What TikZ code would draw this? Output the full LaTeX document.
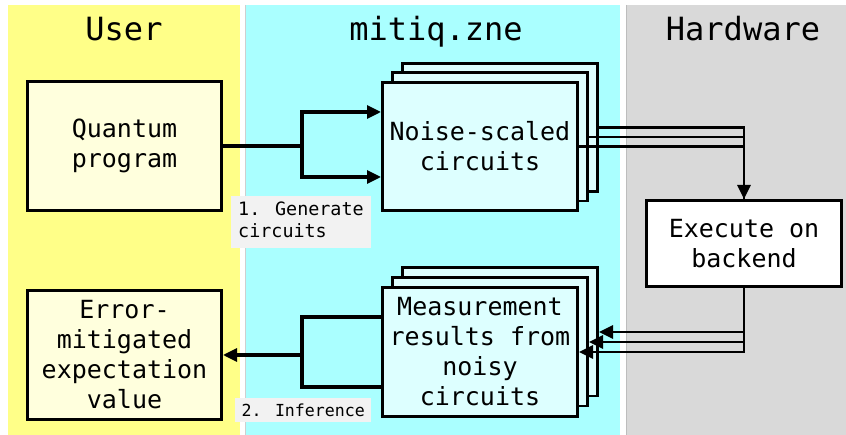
\documentclass[tikz,border=0pt]{standalone}
\usepackage{fontspec}
\setmainfont{DejaVu Sans Mono}
\usetikzlibrary{arrows.meta}
\definecolor{laneY}{HTML}{FFFF88}
\definecolor{boxY}{HTML}{FFFFDD}
\definecolor{laneC}{HTML}{AAFFFF}
\definecolor{boxC}{HTML}{DDFFFF}
\definecolor{laneG}{HTML}{D9D9D9}
\definecolor{lblbg}{HTML}{F2F2F2}
\definecolor{sepC}{HTML}{CFCFCF}
\definecolor{sepG}{HTML}{BDBDBD}
\tikzset{
  head/.style={anchor=base, inner sep=0pt, font=\fontsize{32}{38}\selectfont},
  box/.style={draw, line width=2.6pt, inner sep=0pt, align=center,
    font=\fontsize{25}{30}\selectfont},
  userbox/.style={box, fill=boxY, minimum width=194.4pt, minimum height=129.4pt},
  zbox/.style={box, fill=boxC, minimum width=195.4pt, minimum height=128.4pt},
  hwbox/.style={box, fill=white, minimum width=195.4pt, minimum height=86.4pt},
  connline/.style={line width=3.2pt},
  hwline/.style={line width=2.8pt},
  arrowtip/.style={-{Triangle[length=14pt,width=13pt]}},
  lblbox/.style={fill=lblbg, inner xsep=7pt, inner ysep=4pt},
}
\begin{document}
\begin{tikzpicture}[x=1pt,y=-1pt]
\useasboundingbox (0,0) rectangle (846,435);
% lanes
\fill[laneY] (8,5) rectangle (240,435);
\fill[laneC] (246,5) rectangle (620,435);
\draw[sepC, line width=1.5pt] (245.5,5) -- (245.5,435);
\fill[laneG] (626,5) rectangle (846,435);
\draw[sepG, line width=1.5pt] (626.5,5) -- (626.5,435);
% headings
\node[head] (hU) at (124,41) {User};
\node[head] (hM) at (436,41) {mitiq.zne};
\node[head] (hH) at (743,41) {Hardware};
% user boxes
\node[userbox] (qp) at (124.5,146) {Quantum\\program};
\node[userbox] (err) at (124.5,355) {Error-\\mitigated\\expectation\\value};
% noise-scaled stack
\node[zbox] (nb) at (500,127.5) {};
\node[zbox] (nm) at (490,137) {};
\node[zbox] (nf) at (480,146.5) {Noise-scaled\\circuits};
% measurement stack
\node[zbox] (mb) at (500,332) {};
\node[zbox] (mm) at (490,342) {};
\node[zbox] (mf) at (480,352) {Measurement\\results from\\noisy\\circuits};
% hardware
\node[hwbox] (ex) at (744,243.5) {Execute on\\backend};
% connectors: generate
\coordinate (j1) at (302,146);
\draw[connline] (qp.east) -- (j1);
\draw[connline, arrowtip] (j1) |- ([yshift=34.5pt]nf.west);
\draw[connline, arrowtip] (j1) |- ([yshift=-30.5pt]nf.west);
% to hardware
\draw[hwline] (nb.east) -| (ex.north);
\draw[hwline] (nm.east) -| (ex.north);
\draw[hwline, arrowtip] (nf.east) -| (ex.north);
% from hardware
\draw[hwline, arrowtip] (ex.south) |- (mb.east);
\draw[hwline, arrowtip] (ex.south) |- (mm.east);
\draw[hwline, arrowtip] (ex.south) |- (mf.east);
% inference
\coordinate (j2) at (302,355);
\draw[connline] ([yshift=35pt]mf.west) -| (j2);
\draw[connline] ([yshift=-35pt]mf.west) -| (j2);
\draw[connline, arrowtip] (j2) -- (err.east);
% labels
\node[lblbox, anchor=north west] (l1) at (231,196) {\fontsize{18.4}{22}\selectfont\begin{tabular}{@{}l@{}}1. Generate\\circuits\end{tabular}};
\node[lblbox, anchor=north west, inner xsep=6.5pt, inner ysep=5.75pt, text height=12.5pt, text depth=0pt] (l2) at (235,398) {\fontsize{16.6}{20}\selectfont 2. Inference};
\end{tikzpicture}
\end{document}
